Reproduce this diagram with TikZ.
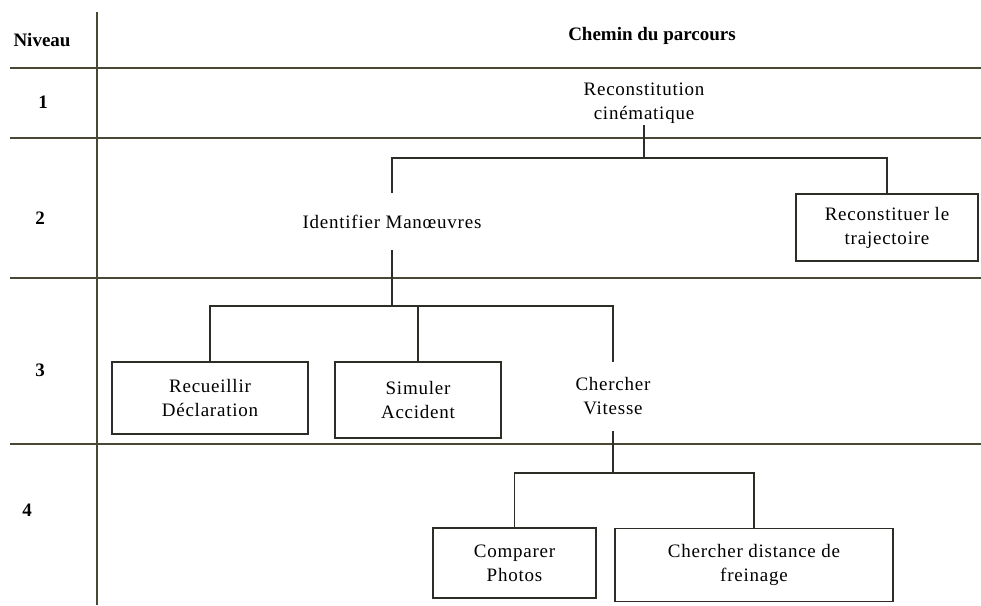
\documentclass[tikz,border=0pt]{standalone}
\usepackage{fontspec}
\setmainfont{Liberation Serif}
\newfontfamily\chartfont[LetterSpace=4]{Liberation Serif}
\definecolor{tabcol}{RGB}{72,72,52}
\definecolor{lncol}{RGB}{45,45,40}
\begin{document}
\begin{tikzpicture}[x=1pt,y=-1pt,
  tline/.style={line width=1.5pt, draw=tabcol},
  conn/.style={line width=1.3pt, draw=lncol},
  chart/.style={align=center, inner sep=0pt, font=\chartfont\fontsize{19}{24}\selectfont},
  boxnode/.style={chart, draw=lncol, line width=1.3pt},
  plainnode/.style={chart, minimum width=10pt},
  hdr/.style={inner sep=0pt, font=\bfseries\fontsize{19}{23}\selectfont}]
\useasboundingbox (0,0) rectangle (981,605);
% table grid
\draw[tline] (97,12) -- (97,605);
\foreach \yy in {68,138,278,444} \draw[tline] (10,\yy) -- (981,\yy);
% headers
\node[hdr] (hniv) at (42,40) {Niveau};
\node[hdr] (hchem) at (652,36) {Chemin du parcours};
\node[hdr] (l1) at (43,102) {1};
\node[hdr] (l2) at (40,218) {2};
\node[hdr] (l3) at (40,370) {3};
\node[hdr] (l4) at (27,510) {4};
% chart nodes
\node[plainnode, minimum height=44pt] (rc) at (644,103) {Reconstitution\\cinématique};
\node[plainnode, minimum height=57pt] (im) at (392,221.5) {Identifier Manœuvres};
\node[boxnode, minimum width=182pt, minimum height=67pt] (rt) at (887,227.5) {Reconstituer le\\trajectoire};
\node[boxnode, minimum width=196pt, minimum height=72pt] (rd) at (210,398) {Recueillir\\Déclaration};
\node[boxnode, minimum width=166pt, minimum height=76pt] (sa) at (418,400) {Simuler\\Accident};
\node[plainnode, minimum height=69pt] (cv) at (613,396.5) {Chercher\\Vitesse};
\node[boxnode, minimum width=163pt, minimum height=70pt] (cp) at (514.5,563) {Comparer\\Photos};
\node[boxnode, minimum width=278pt, minimum height=73pt] (cd) at (754,565) {Chercher distance de\\freinage};
% junctions
\coordinate (j1) at (644,158);
\coordinate (j2) at (392,306);
\coordinate (j3) at (613,473);
% connectors
\draw[conn] (rc.south) -- (j1);
\draw[conn] (im.north) -- (im.north |- j1) -- (rt.north |- j1) -- (rt.north);
\draw[conn] (im.south) -- (j2);
\draw[conn] (rd.north) -- (rd.north |- j2) -- (cv.north |- j2) -- (cv.north);
\draw[conn] (sa.north) -- (sa.north |- j2);
\draw[conn] (cv.south) -- (j3);
\draw[conn] (cp.north) -- (cp.north |- j3) -- (cd.north |- j3) -- (cd.north);
\end{tikzpicture}
\end{document}
